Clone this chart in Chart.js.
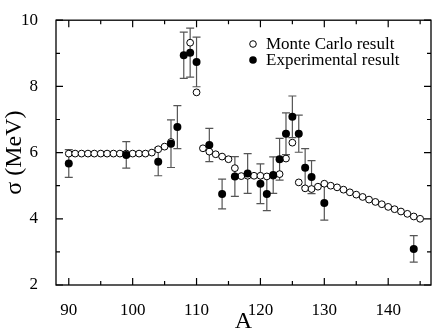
<!DOCTYPE html>
<html>
<head>
<meta charset="utf-8">
<script src="https://cdn.jsdelivr.net/npm/chart.js@4"></script>
<style>
  html, body { margin: 0; padding: 0; background: #fff; }
  #wrap { width: 436px; height: 333px; }
</style>
</head>
<body>
<div id="wrap"><canvas id="grafico" width="436" height="333"></canvas></div>
<script>
// Monte Carlo result (open circles)
const mcA = [90, 91, 92, 93, 94, 95, 96, 97, 98, 99, 100, 101, 102, 103, 104, 105, 106,
  109, 110, 111, 112, 113, 114, 115, 116, 117, 118, 119, 120, 121, 122, 123, 124, 125,
  126, 127, 128, 129, 130, 131, 132, 133, 134, 135, 136, 137, 138, 139, 140, 141, 142,
  143, 144, 145];
const mcSigma = [5.97, 5.97, 5.97, 5.97, 5.97, 5.97, 5.97, 5.97, 5.97, 5.97, 5.97, 5.97, 5.97, 6.0, 6.1, 6.18, 6.32,
  9.32, 7.82, 6.13, 6.03, 5.95, 5.88, 5.8, 5.53, 5.29, 5.3, 5.3, 5.3, 5.28, 5.3, 5.35, 5.82, 6.3,
  5.1, 4.92, 4.9, 4.97, 5.06, 5.0, 4.95, 4.88, 4.8, 4.73, 4.66, 4.58, 4.51, 4.44, 4.36, 4.29, 4.22,
  4.15, 4.07, 4.0];

// Experimental result (filled circles with error bars)
const expA = [90, 99, 104, 106, 107, 108, 109, 110, 112, 114, 116, 118, 120, 121, 122, 123, 124, 125, 126, 127, 128, 130, 144];
const expSigma = [5.67, 5.93, 5.72, 6.27, 6.77, 8.94, 9.02, 8.74, 6.23, 4.75, 5.28, 5.37, 5.06, 4.75, 5.32, 5.8, 6.57, 7.08, 6.57, 5.54, 5.26, 4.48, 3.09];
const expErr = [0.42, 0.4, 0.42, 0.72, 0.65, 0.7, 0.74, 0.75, 0.5, 0.45, 0.6, 0.6, 0.6, 0.5, 0.55, 0.63, 0.63, 0.63, 0.56, 0.58, 0.5, 0.52, 0.4];

const xTicks = [90, 100, 110, 120, 130, 140];
const xMinor = [95, 105, 115, 125, 135, 145];
const yTicks = [2, 4, 6, 8, 10];
const yMinor = [3, 5, 7, 9];

const legendLabels = ['Monte Carlo result', 'Experimental result'];

const serif = '"Liberation Serif", "DejaVu Serif", serif';

// error bars under the points
const barrasErro = {
  id: 'barrasErro',
  beforeDatasetsDraw(chart) {
    const { ctx, scales: { x, y } } = chart;
    ctx.save();
    ctx.strokeStyle = '#555';
    ctx.lineWidth = 1.2;
    expA.forEach((a, i) => {
      const px = x.getPixelForValue(a);
      const top = y.getPixelForValue(expSigma[i] + expErr[i]);
      const bot = y.getPixelForValue(expSigma[i] - expErr[i]);
      ctx.beginPath();
      ctx.moveTo(px, top); ctx.lineTo(px, bot);
      ctx.moveTo(px - 4, top); ctx.lineTo(px + 4, top);
      ctx.moveTo(px - 4, bot); ctx.lineTo(px + 4, bot);
      ctx.stroke();
    });
    ctx.restore();
  }
};

// box frame, inward ticks, legend
const moldura = {
  id: 'moldura',
  afterDraw(chart) {
    const { ctx, chartArea: a, scales: { x, y } } = chart;
    ctx.save();
    ctx.strokeStyle = '#000';
    ctx.lineWidth = 1.3;
    ctx.strokeRect(a.left, a.top, a.right - a.left, a.bottom - a.top);
    ctx.lineWidth = 1.2;
    ctx.beginPath();
    const tx = (v, len) => {
      const px = x.getPixelForValue(v);
      ctx.moveTo(px, a.bottom); ctx.lineTo(px, a.bottom - len);
      ctx.moveTo(px, a.top); ctx.lineTo(px, a.top + len);
    };
    const ty = (v, len) => {
      const py = y.getPixelForValue(v);
      ctx.moveTo(a.left, py); ctx.lineTo(a.left + len, py);
      ctx.moveTo(a.right, py); ctx.lineTo(a.right - len, py);
    };
    xTicks.forEach(v => tx(v, 7));
    xMinor.forEach(v => tx(v, 4));
    yTicks.forEach(v => ty(v, 7));
    yMinor.forEach(v => ty(v, 4));
    ctx.stroke();

    // legend
    ctx.font = '17px ' + serif;
    ctx.textBaseline = 'middle';
    ctx.fillStyle = '#000';
    const lx = 253, ly = [44, 60];
    ctx.beginPath();
    ctx.arc(lx, ly[0], 3.3, 0, Math.PI * 2);
    ctx.fillStyle = '#fff'; ctx.fill();
    ctx.lineWidth = 1; ctx.stroke();
    ctx.beginPath();
    ctx.arc(lx, ly[1], 3.8, 0, Math.PI * 2);
    ctx.fillStyle = '#000'; ctx.fill();
    ctx.fillText(legendLabels[0], 266, ly[0] + 1);
    ctx.fillText(legendLabels[1], 266, ly[1] + 1);
    ctx.restore();
  }
};

const ctx = document.getElementById('grafico').getContext('2d');
new Chart(ctx, {
  type: 'scatter',
  data: {
    datasets: [
      {
        label: legendLabels[1],
        data: expA.map((a, i) => ({ x: a, y: expSigma[i] })),
        pointRadius: 4,
        pointBackgroundColor: '#000',
        pointBorderColor: '#000',
        pointBorderWidth: 0
      },
      {
        label: legendLabels[0],
        data: mcA.map((a, i) => ({ x: a, y: mcSigma[i] })),
        pointRadius: 3.4,
        pointBackgroundColor: '#fff',
        pointBorderColor: '#000',
        pointBorderWidth: 1
      }
    ]
  },
  options: {
    responsive: false,
    animation: false,
    layout: { padding: { top: 8, right: 4, left: 0, bottom: 0 } },
    plugins: { legend: { display: false }, tooltip: { enabled: false } },
    scales: {
      x: {
        type: 'linear',
        min: 88,
        max: 146.7,
        afterBuildTicks: (s) => { s.ticks = xTicks.map(v => ({ value: v })); },
        afterFit: (s) => { s.height = 48; },
        grid: { display: false },
        border: { display: false },
        ticks: { color: '#000', font: { family: serif, size: 17 }, padding: 7, maxRotation: 0 },
        title: { display: true, text: 'A', color: '#000', font: { family: serif, size: 24, lineHeight: 1 }, padding: { top: 0, bottom: -1 } }
      },
      y: {
        min: 2,
        max: 10,
        afterBuildTicks: (s) => { s.ticks = yTicks.map(v => ({ value: v })); },
        afterFit: (s) => { s.width = 56; },
        grid: { display: false },
        border: { display: false },
        ticks: { color: '#000', font: { family: serif, size: 17 }, padding: 10 },
        title: { display: true, text: 'σ (MeV)', color: '#000', font: { family: serif, size: 24, lineHeight: 1 }, padding: { top: 3, bottom: 0 } }
      }
    }
  },
  plugins: [barrasErro, moldura]
});
</script>
</body>
</html>
